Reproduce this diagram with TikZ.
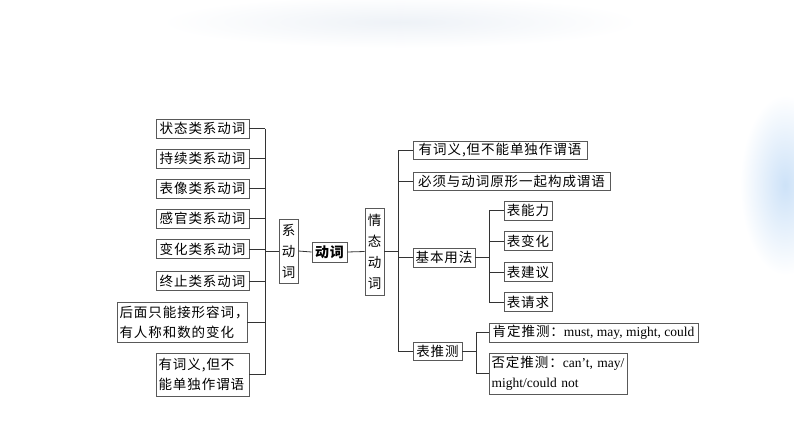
\documentclass[tikz,border=0pt]{standalone}
\usepackage{fontspec}
\setmainfont{Liberation Serif}
\newfontfamily\cjk{Noto Sans CJK SC}[LetterSpace=7]
\definecolor{frost}{RGB}{205,226,248}
\definecolor{mist}{RGB}{238,242,247}
\begin{document}
\begin{tikzpicture}[x=1pt,y=-1pt,
  box/.style={draw=black!65, line width=0.8pt, inner sep=0pt, fill=white,
    font=\cjk\fontsize{13.5}{20}\selectfont},
  lbox/.style={box, align=left, inner xsep=2.5pt},
  vbox/.style={box, align=center, font=\cjk\fontsize{13.5}{21}\selectfont},
  link/.style={draw=black!80, line width=0.8pt}]
\useasboundingbox (0,0) rectangle (794,447);
% faint background decoration
\shade[inner color=frost, outer color=white] (785,185) ellipse [x radius=45, y radius=90];
\shade[inner color=mist, outer color=white] (400,22) ellipse [x radius=240, y radius=26];
% left column
\node[box, minimum width=93, minimum height=19] (L1) at (202.5,128.5) {状态类系动词};
\node[box, minimum width=93, minimum height=19] (L2) at (202.5,158.5) {持续类系动词};
\node[box, minimum width=93, minimum height=19] (L3) at (202.5,188.5) {表像类系动词};
\node[box, minimum width=93, minimum height=19] (L4) at (202.5,218.5) {感官类系动词};
\node[box, minimum width=93, minimum height=19] (L5) at (202.5,249) {变化类系动词};
\node[box, minimum width=93, minimum height=19] (L6) at (202.5,281) {终止类系动词};
\node[lbox, minimum width=130, minimum height=40, text width=125] (L7) at (182,322) {后面只能接形容词，\\有人称和数的变化};
\node[lbox, minimum width=93, minimum height=43, text width=88] (L8) at (202.5,374.5) {有词义,但不\\能单独作谓语};
% middle
\node[vbox, minimum width=19, minimum height=64] (XD) at (288.5,251) {系\\动\\词};
\node[box, minimum width=35, minimum height=20, font=\cjk\bfseries\fontsize{14}{16}\selectfont] (DC) at (329.5,252) {动词};
\node[vbox, minimum width=19, minimum height=87] (QT) at (374.5,251.5) {情\\态\\动\\词};
% right
\node[box, minimum width=174, minimum height=18] (R1) at (500,150) {有词义,但不能单独作谓语};
\node[box, minimum width=197, minimum height=18] (R2) at (511.5,181.5) {必须与动词原形一起构成谓语};
\node[box, minimum width=62, minimum height=19] (R3) at (444,257.5) {基本用法};
\node[box, minimum width=49, minimum height=18] (R4) at (437.5,351.5) {表推测};
\node[box, minimum width=48, minimum height=19] (N1) at (528,210.5) {表能力};
\node[box, minimum width=48, minimum height=19] (N2) at (528,241) {表变化};
\node[box, minimum width=48, minimum height=19] (N3) at (528,272) {表建议};
\node[box, minimum width=48, minimum height=19] (N4) at (528,302) {表请求};
\node[box, minimum width=209, minimum height=19, font=\fontsize{13.5}{20}\selectfont] (P1) at (593.5,332.5) {{\cjk 肯定推测：}must, may, might, could};
\node[lbox, minimum width=138, minimum height=41, text width=133, font=\fontsize{13.5}{20}\selectfont] (P2) at (558,373.5) {{\cjk 否定推测：}can’t, may/\\might/could not};
% buses
\coordinate (busL) at (265,0);
\coordinate (busR) at (398,0);
\coordinate (busS) at (489,0);
\coordinate (busT) at (476,0);
\foreach \n in {L1,L2,L3,L4,L5,L6,L7,L8} \draw[link] (\n.east) -- (\n.east -| busL);
\draw[link] (L1.east -| busL) -- (L8.east -| busL);
\draw[link] (XD.west -| busL) -- (XD.west);
\draw[link] (XD.east) -- (DC.west);
\draw[link] (DC.east) -- (QT.west);
\draw[link] (QT.east) -- (QT.east -| busR);
\draw[link] (R1.west -| busR) -- (R4.west -| busR);
\foreach \n in {R1,R2,R3,R4} \draw[link] (\n.west -| busR) -- (\n.west);
\draw[link] (R3.east) -- (R3.east -| busS);
\draw[link] (N1.west -| busS) -- (N4.west -| busS);
\foreach \n in {N1,N2,N3,N4} \draw[link] (\n.west -| busS) -- (\n.west);
\draw[link] (R4.east) -- (R4.east -| busT);
\draw[link] (P1.west -| busT) -- (P2.west -| busT);
\foreach \n in {P1,P2} \draw[link] (\n.west -| busT) -- (\n.west);
\end{tikzpicture}
\end{document}
